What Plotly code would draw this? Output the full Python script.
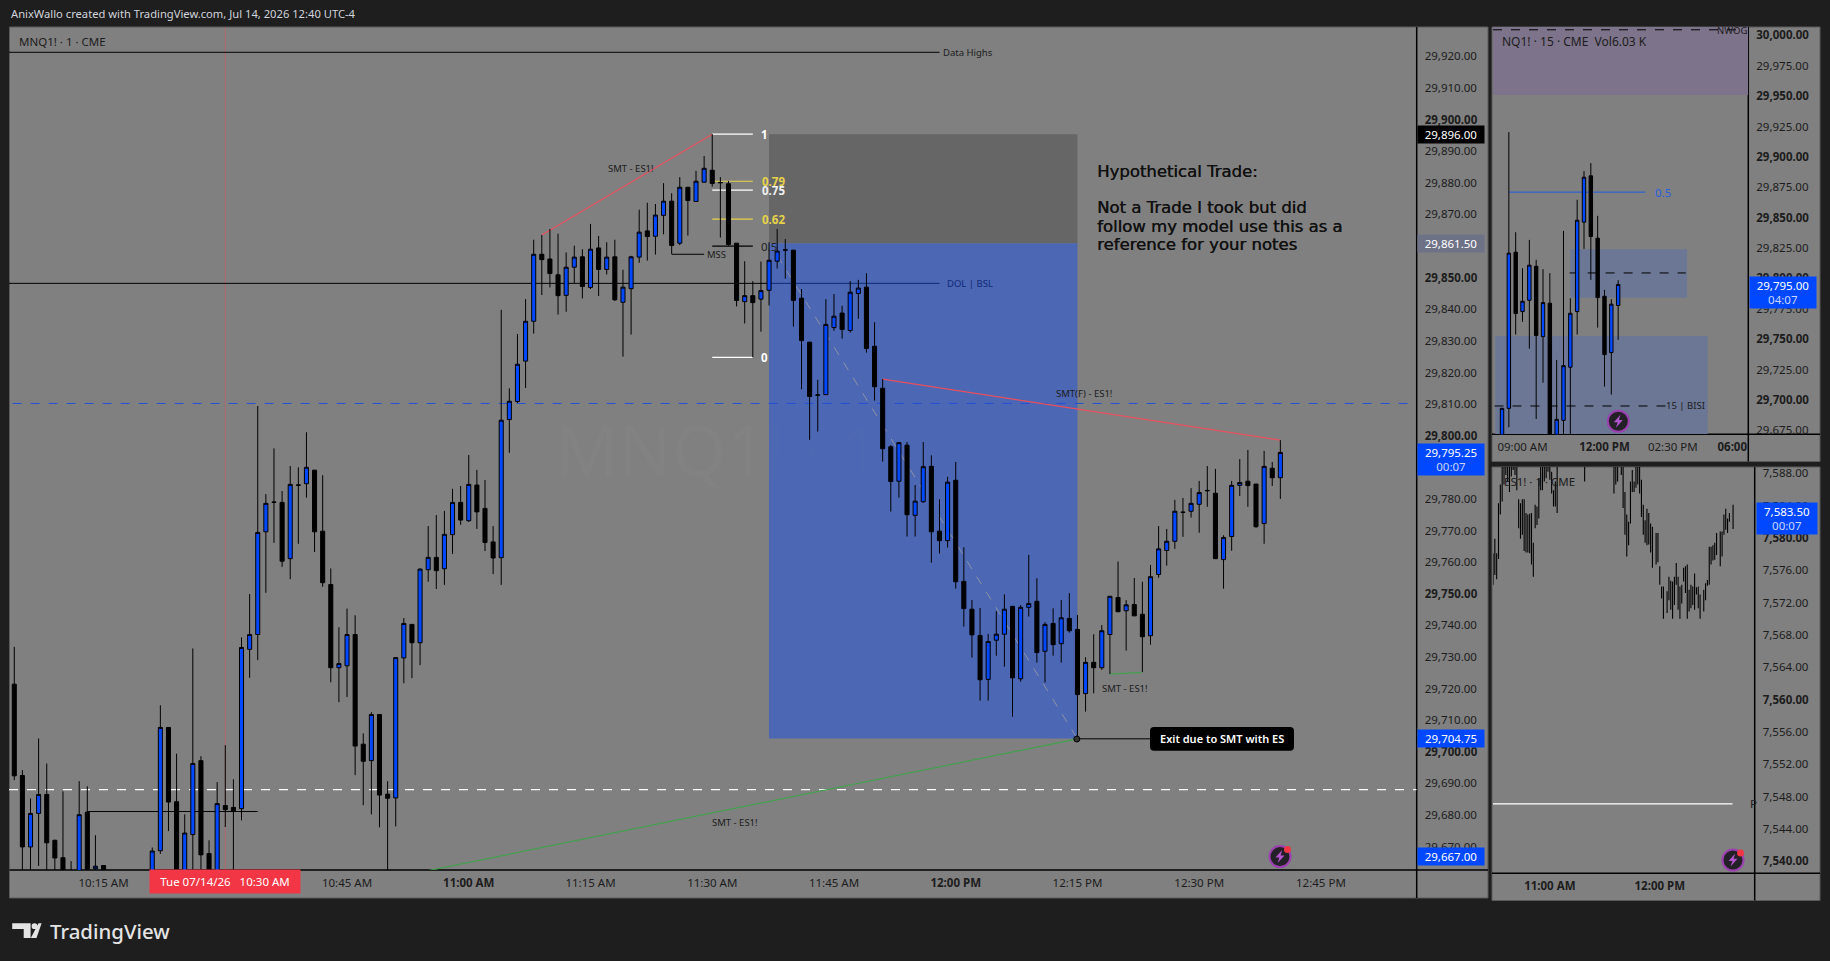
import plotly.graph_objects as go

# ---------- data: MNQ1! 1-minute bars (price minus MAIN_BASE), starting 10:04 ----------
MAIN_BASE = 29000
N = None
MAIN_OPEN = [721.4,692.5,669.9,680.5,686.5,672.0,666.5,660,655,680.9,
663.0,664.0,N,N,N,N,N,655,668.7,707.7,
684.2,655,673.8,697.2,667.8,655,683.0,682.4,682.0,732.4,
737.1,769.6,778.9,778.9,761.1,784.3,784.8,789.1,769.8,752.9,
726.6,727.2,737.1,702.4,697.2,711.8,686.6,685.4,729.7,740.3,
734.5,757.6,761.5,757.9,768.7,778.9,773.1,784.4,777.0,766.4,
761.4,805.1,810.8,823.6,836.2,857.4,855.9,850.9,844.4,853.3,
856.6,846.9,859.4,852.6,856.6,842.2,846.5,856.5,864.8,863.1,
869.7,874.2,860.9,878.6,874.1,880.2,884.0,880.0,879.7,860.9,
842.4,844.3,843.2,846.0,855.2,858.7,858.7,843.5,829.6,812.8,
813.0,834.2,838.8,833.3,845.0,847.0,828.3,815.0,796.5,785.6,
797.0,774.8,779.1,790.3,769.8,766.8,785.9,753.9,745.1,736.8,
722.9,735.3,737.2,746.0,723.1,745.7,747.6,731.8,740.6,734.2,
742.2,738.7,718.4,728.3,726.6,737.1,748.8,744.6,746.6,743.5,
736.7,756.1,763.7,766.6,775.7,776.1,778.3,782.7,781.8,760.8,
768.1,784.3,785.6,784.7,772.2,789.7,786.7]
MAIN_HIGH = [733.2,694.2,685.2,704.2,696.3,672.2,687.5,665.4,690.7,689.1,
673.6,664.0,N,N,N,N,N,669.7,714.7,707.7,
699.4,680.2,732.7,698.6,672.0,690.4,702.1,691.3,736.2,749.9,
809.4,781.5,796.0,782.5,790.4,790.0,801.1,789.1,787.5,758.0,
739.4,745.3,743.2,705.8,712.5,711.8,690.7,729.8,742.3,740.3,
758.0,771.4,774.9,776.2,783.2,784.1,793.9,789.2,786.0,771.4,
839.8,815.0,832.2,843.2,862.0,863.5,865.4,863.9,858.0,860.1,
859.0,867.0,863.2,861.2,862.0,852.5,856.9,871.5,873.7,873.3,
879.9,876.7,881.8,878.6,883.8,888.5,895.4,881.8,880.6,860.9,
855.2,848.9,855.1,861.2,865.4,862.2,858.8,846.4,829.6,817.7,
843.2,844.8,841.1,848.9,849.3,851.4,835.9,817.9,797.0,797.9,
798.0,784.4,798.0,793.8,779.9,787.0,791.7,764.7,748.0,745.5,
737.3,744.5,749.8,746.1,746.4,762.3,754.9,741.0,745.4,748.0,
750.2,743.3,729.9,737.2,740.1,749.2,760.2,748.0,755.0,753.8,
759.1,771.4,770.5,779.7,780.3,783.4,785.7,790.4,789.5,768.5,
785.7,792.6,795.5,784.7,795.2,791.7,798.6]
MAIN_LOW = [691.0,655,655,663.9,658,655,650,650,650,662.5,
660,658,N,N,N,N,N,650,667.7,674.9,
650,650,655,655,650,650,676.2,655,678.3,723.4,
729.0,750.3,766.1,758.5,754.6,765.8,780.4,763.2,752.2,722.0,
715.7,717.3,692.6,683.1,680.2,676.1,650,676.4,721.7,723.3,
727.4,753.8,751.5,752.8,762.6,771.8,772.7,770.5,763.5,756.2,
752.8,794.6,810.3,815.1,832.3,844.5,846.9,838.3,839.2,848.2,
843.4,846.4,844.2,851.0,842.6,825.0,832.0,854.7,855.4,857.3,
863.7,857.5,860.3,863.3,874.1,880.1,878.8,862.7,860.1,840.9,
835.5,824.8,832.9,841.2,852.9,849.7,834.5,814.7,798.7,801.3,
813.0,833.2,830.7,832.6,837.0,826.3,811.1,791.8,776.0,780.4,
768.1,768.1,778.8,759.8,762.7,764.6,751.6,739.6,729.8,716.2,
716.2,730.4,726.9,711.1,722.2,742.8,728.2,721.9,730.4,728.2,
737.7,704.1,712.7,718.5,725.9,724.6,744.3,732.0,743.0,725.2,
733.9,755.1,758.9,764.2,768.0,774.1,769.3,777.5,761.1,751.6,
763.6,780.9,777.5,770.9,765.8,784.1,780.0]
MAIN_CLOSE = [692.4,669.9,680.5,686.5,671.2,666.4,659.4,657,680.1,662.8,
663.8,660,N,N,N,N,N,668.6,707.7,684.1,
655,674.3,696.3,667.4,655,683.6,681.7,681.2,733.0,737.1,
769.4,778.6,779.0,760.3,784.6,784.4,790.0,769.6,753.5,726.6,
727.9,737.1,701.8,697.0,711.8,686.3,685.3,729.8,740.6,734.5,
757.8,761.5,757.3,768.8,778.9,773.3,784.6,775.9,766.2,761.3,
804.9,810.9,822.6,836.2,857.4,855.7,851.3,844.3,853.3,856.5,
847.2,859.0,852.6,856.5,843.0,847.0,856.6,864.4,863.0,869.8,
874.2,860.2,878.6,874.4,880.5,884.6,879.8,880.1,860.5,842.8,
844.3,842.1,845.9,855.5,858.4,858.8,842.8,830.1,812.4,812.9,
835.2,837.8,833.6,845.4,846.7,827.6,815.5,795.9,785.5,797.8,
775.0,779.3,790.2,769.6,766.8,785.3,753.8,745.3,737.0,722.8,
734.9,737.2,745.1,723.4,745.7,746.9,731.4,740.3,733.9,742.4,
738.3,718.1,728.3,726.6,738.3,749.2,744.3,746.5,743.0,736.4,
755.4,764.2,766.6,776.1,775.8,778.6,782.0,782.6,761.1,767.8,
784.3,785.2,784.2,771.2,790.3,786.7,794.7]

MAIN_PRICE_TICKS = [29670,29680,29690,29700,29710,29720,29730,29740,29750,29760,29770,29780,29790,
                    29800,29810,29820,29830,29840,29850,29860,29870,29880,29890,29900,29910,29920]
MAIN_PRICE_LABELS = ["29,670.00","29,680.00","29,690.00","<b>29,700.00</b>","29,710.00","29,720.00","29,730.00",
                     "29,740.00","<b>29,750.00</b>","29,760.00","29,770.00","29,780.00","29,790.00","<b>29,800.00</b>",
                     "29,810.00","29,820.00","29,830.00","29,840.00","<b>29,850.00</b>","29,860.00","29,870.00",
                     "29,880.00","29,890.00","<b>29,900.00</b>","29,910.00","29,920.00"]
MAIN_TIME_TICKS = [11,41,56,71,86,101,116,131,146,161]
MAIN_TIME_LABELS = ["10:15 AM","10:45 AM","<b>11:00 AM</b>","11:15 AM","11:30 AM","11:45 AM","<b>12:00 PM</b>",
                    "12:15 PM","12:30 PM","12:45 PM"]

# ---------- data: NQ1! 15-minute bars, starting 08:15 ----------
NQ_OPEN  = [660,693.1,821.6,772.7,782,810,752.1,779.6,650,683.2,726.9,772.7,846.3,884.4,833.1,785.3,739,777.7]
NQ_HIGH  = [693.1,920.4,838,808.4,831.7,815.3,807.6,804.3,732.9,839.1,783.7,864.7,888.3,894.9,851.5,790.6,782.9,798.5]
NQ_LOW   = [655,677.5,753.8,764.2,742.2,684.3,714.2,645,645,655,655,753.8,824.3,798.8,759.5,711,704.4,749.4]
NQ_CLOSE = [693.1,820.8,771.1,781.2,810.9,753,780.1,650,684,728.2,771.3,847.9,883.3,834.5,784.2,737.3,778.8,795]
NQ_PRICE_TICKS = [29675,29700,29725,29750,29775,29800,29825,29850,29875,29900,29925,29950,29975,30000]
NQ_PRICE_LABELS = ["29,675.00","<b>29,700.00</b>","29,725.00","<b>29,750.00</b>","29,775.00","<b>29,800.00</b>","29,825.00",
                   "<b>29,850.00</b>","29,875.00","<b>29,900.00</b>","29,925.00","<b>29,950.00</b>","29,975.00","<b>30,000.00</b>"]
NQ_TIME_TICKS = [3,15,25,33.7]
NQ_TIME_LABELS = ["09:00 AM","<b>12:00 PM</b>","02:30 PM","<b>06:00</b>"]

# ---------- data: ES1! 1-minute highs and lows (price minus ES_BASE) ----------
ES_BASE = 7000
ES_INDEX = [0,1,2,3,4,5,6,7,8,9,10,11,12,13,14,15,16,17,18,19,20,21,22,23,24,25,26,27,28,29,30,31,32,33,34,35,
            50,66,67,68,70,71,72,73,74,75,76,77,78,79,80,81,82,83,84,85,86,87,89,90,91,92,93,95,96,97,98,99,100,
            101,102,103,104,105,106,107,108,109,110,111,112,113,115,116,117,118,119,120,121,122,124,125,126,127,128,129,131]
ES_HIGH = [578.1,579.9,578.1,584.3,586.6,590,590,590,590,590,590,590,590,590,584.8,584.3,584.8,584.8,583.1,582.9,583.0,583.1,579.4,584.1,583.9,587.4,590,590,590,590,590,590,588.2,585.9,587.0,590,
           590,590,590,590,590,590,585.7,582.9,582.0,587.0,588.4,587.0,590,590,590,587.2,584.1,582.2,583.6,583.1,581.8,581.4,580.6,580.6,576.5,574.0,574.0,573.4,575.2,574.7,574.6,575.2,576.9,
           575.2,574.0,574.2,576.3,576.5,576.7,573.6,574.2,574.0,575.6,573.9,574.0,573.0,573.6,574.4,574.8,578.9,578.9,579.1,579.4,580.6,580.8,580.8,582.9,583.6,582.4,583.1,584.1]
ES_LOW = [574.2,575.4,574.9,577.4,582.9,584.5,586.6,587.8,587.0,585.7,587.6,588.4,587.8,585.9,581.2,579.9,580.4,578.4,578.2,578.2,578.1,576.7,575.2,581.2,581.6,582.4,585.9,585.9,587.0,587.4,588.2,587.2,585.5,583.9,583.9,583.1,
          587.0,585.5,586.6,587.0,587.8,583.7,580.4,577.7,579.1,581.8,585.7,585.7,586.2,586.6,585.5,582.6,580.4,579.4,579.1,579.2,578.2,576.3,576.7,577.0,574.2,572.5,570.0,570.7,572.3,571.1,570.0,571.7,574.2,
          571.1,570.0,571.9,574.6,573.2,570.0,570.9,571.3,571.7,571.1,573.0,571.3,570.0,570.9,572.3,574.1,574.2,576.7,577.2,577.3,577.9,576.5,577.7,580.4,581.0,580.6,582.0,581.1]
ES_PRICE_TICKS = [7540,7544,7548,7552,7556,7560,7564,7568,7572,7576,7580,7584,7588]
ES_PRICE_LABELS = ["<b>7,540.00</b>","7,544.00","7,548.00","7,552.00","7,556.00","<b>7,560.00</b>","7,564.00","7,568.00",
                   "7,572.00","7,576.00","<b>7,580.00</b>","7,584.00","7,588.00"]
ES_TIME_TICKS = [31,91]
ES_TIME_LABELS = ["<b>11:00 AM</b>","<b>12:00 PM</b>"]

# ---------- colours ----------
BG = "#1e1e1e"; PANE = "#808080"; FRAME = "#5a5a5a"; INK = "#1c1c1c"
BLUE = "#0048ff"; ZONE = "#4c67b3"; DARKZONE = "#666666"; RED = "#e8505e"; GREEN = "#43a04e"
FONT = "Noto Sans"; W = 1830; H = 961
TICK = dict(family=FONT, size=11.5, color=INK)

def px(x): return x / W
def py(y): return 1 - y / H

MAIN = dict(l=9, r=1416.7, t=27, b=870)
NQ = dict(l=1493, r=1748.3, t=27, b=434.3)
ES = dict(l=1493, r=1754.7, t=467, b=873.3)

fig = go.Figure()
candle = dict(increasing=dict(fillcolor=BLUE, line=dict(color="#000000", width=1)),
              decreasing=dict(fillcolor="#000000", line=dict(color="#000000", width=1)),
              hoverinfo="skip", showlegend=False)
fig.add_trace(go.Candlestick(x=list(range(len(MAIN_OPEN))),
                             open=[None if v is None else MAIN_BASE + v for v in MAIN_OPEN],
                             high=[None if v is None else MAIN_BASE + v for v in MAIN_HIGH],
                             low=[None if v is None else MAIN_BASE + v for v in MAIN_LOW],
                             close=[None if v is None else MAIN_BASE + v for v in MAIN_CLOSE],
                             xaxis="x", yaxis="y", **candle))
fig.add_trace(go.Candlestick(x=list(range(len(NQ_OPEN))),
                             open=[MAIN_BASE + v for v in NQ_OPEN], high=[MAIN_BASE + v for v in NQ_HIGH],
                             low=[MAIN_BASE + v for v in NQ_LOW], close=[MAIN_BASE + v for v in NQ_CLOSE],
                             xaxis="x2", yaxis="y2", **candle))
es_x, es_y = [], []
for i, hi, lo in zip(ES_INDEX, ES_HIGH, ES_LOW):
    es_x += [i, i, None]
    es_y += [ES_BASE + lo, ES_BASE + hi, None]
fig.add_trace(go.Scatter(x=es_x, y=es_y, mode="lines", line=dict(color="#000000", width=1.1),
                         xaxis="x3", yaxis="y3", hoverinfo="skip", showlegend=False))

shapes = []
def paper_rect(x0, y0, x1, y1, fill, line=None):
    shapes.append(dict(type="rect", xref="paper", yref="paper", x0=px(x0), x1=px(x1), y0=py(y0), y1=py(y1),
                       fillcolor=fill, line=dict(color=line or fill, width=1 if line else 0), layer="below"))
def paper_line(x0, y0, x1, y1, color="#000000", width=1.5):
    shapes.append(dict(type="line", xref="paper", yref="paper", x0=px(x0), x1=px(x1), y0=py(y0), y1=py(y1),
                       line=dict(color=color, width=width), layer="below"))
def seg(ax, x0, y0, x1, y1, color="#000000", width=1, dash="solid"):
    n = "" if ax == 1 else str(ax)
    shapes.append(dict(type="line", xref="x" + n, yref="y" + n, x0=x0, x1=x1, y0=y0, y1=y1,
                       line=dict(color=color, width=width, dash=dash), layer="below"))
def zone(ax, x0, y0, x1, y1, color):
    n = "" if ax == 1 else str(ax)
    shapes.append(dict(type="rect", xref="x" + n, yref="y" + n, x0=x0, x1=x1, y0=y0, y1=y1,
                       fillcolor=color, line=dict(width=0), layer="below"))

# pane frames
paper_rect(9.5, 27, 1488, 898, PANE, FRAME)
paper_rect(1492, 27, 1820, 461.5, PANE, FRAME)
paper_rect(1492, 467, 1820, 900.5, PANE, FRAME)

# main pane zones and drawings
zone(1, 93, 29860.9, 131, 29895.4, DARKZONE)
zone(1, 93, 29704.2, 131, 29860.9, ZONE)
seg(1, 26, 29662.6, 26, 29929.3, "rgba(230,80,90,0.45)", 1)
seg(1, -0.65, 29921.3, 114, 29921.3, "#000000", 1)
seg(1, -0.65, 29848.2, 93, 29848.2, "#000000", 1)
seg(1, 93, 29848.2, 114, 29848.2, "#0e2a78", 1)
seg(1, -0.2, 29810.2, 172.8, 29810.2, "#2450d8", 1, "dash")
seg(1, -0.65, 29688, 172.8, 29688, "#ffffff", 1.2, "dash")
seg(1, 9, 29681.1, 30, 29681.1, "#000000", 1)
seg(1, 81, 29857.4, 85, 29857.4, "#000000", 1)
seg(1, 65, 29863.5, 86, 29895.4, RED, 1.2)
seg(1, 107, 29817.9, 156, 29798.6, RED, 1.2)
seg(1, 51, 29662.4, 131, 29704.1, GREEN, 1.2)
seg(1, 135, 29724.6, 139, 29725.1, GREEN, 1.2)
seg(1, 94, 29857, 131, 29704.1, "#8d93a6", 1, "dash")
seg(1, 131, 29704.1, 148, 29704.1, "#000000", 1)
seg(1, 86, 29895.4, 91, 29895.4, "#ffffff", 1.2)
seg(1, 86, 29880.5, 91, 29880.5, "#e6d24a", 1.2)
seg(1, 86, 29877.7, 91, 29877.7, "#ffffff", 1.2)
seg(1, 86, 29868.5, 91, 29868.5, "#e6d24a", 1.2)
seg(1, 86, 29860, 91, 29860, "#000000", 1.2)
seg(1, 86, 29824.8, 91, 29824.8, "#ffffff", 1.2)

# NQ pane zones and drawings
zone(2, -1.32, 29951, 36.05, 30007, "#7d738a")
zone(2, 10, 29784, 27.1, 29824, "#6b7795")
zone(2, -1, 29672, 30.1, 29752.7, "#6b7795")
seg(2, -1.32, 30004.6, 35.5, 30004.6, "#000000", 1, "dash")
seg(2, 1, 29871, 21, 29871, "#1f5be0", 1)
seg(2, 9.9, 29804.5, 26.9, 29804.5, "#000000", 1, "dash")
seg(2, -1.1, 29695, 24.1, 29695, "#000000", 1, "dash")

# ES pane line
seg(3, 0, 7547.1, 130.7, 7547.1, "#ffffff", 1.2)

# axis separators
paper_line(1416.7, 27, 1416.7, 898)
paper_line(9.5, 870, 1488, 870)
paper_line(1748.3, 27, 1748.3, 461.5)
paper_line(1492, 434.3, 1820, 434.3)
paper_line(1754.7, 467, 1754.7, 900.5)
paper_line(1492, 873.3, 1820, 873.3)

# exit callout and marker
x0, x1, y0, y1, r = px(1150), px(1294), py(727), py(750.7), 4
rx, ry = r / W, r / H
shapes.append(dict(type="path", xref="paper", yref="paper", fillcolor="#000000", line=dict(width=0),
                   path=f"M{x0+rx},{y0} L{x1-rx},{y0} Q{x1},{y0} {x1},{y0-ry} L{x1},{y1+ry} Q{x1},{y1} {x1-rx},{y1} "
                        f"L{x0+rx},{y1} Q{x0},{y1} {x0},{y1+ry} L{x0},{y0-ry} Q{x0},{y0} {x0+rx},{y0} Z"))
shapes.append(dict(type="circle", xref="paper", yref="paper", x0=px(1073.8), x1=px(1079.8), y0=py(736), y1=py(742),
                   fillcolor="#333333", line=dict(color="#000000", width=1)))

# alert icons with lightning bolts
BOLT = [(2.2, -6.5), (-4.5, 1), (-0.6, 1), (-2.4, 6.5), (4.5, -1.2), (0.6, -1.2)]
def icon(cx, cy, dot):
    shapes.append(dict(type="circle", xref="paper", yref="paper", x0=px(cx - 10.5), x1=px(cx + 10.5),
                       y0=py(cy - 10.5), y1=py(cy + 10.5), fillcolor="#242028", line=dict(color="#9c3fb0", width=2)))
    path = "M" + " L".join(f"{px(cx + dx)},{py(cy + dy)}" for dx, dy in BOLT) + " Z"
    shapes.append(dict(type="path", xref="paper", yref="paper", path=path, fillcolor="#b455d0", line=dict(width=0)))
    if dot:
        shapes.append(dict(type="circle", xref="paper", yref="paper", x0=px(cx + 4), x1=px(cx + 11),
                           y0=py(cy - 10.5), y1=py(cy - 3.5), fillcolor="#f23645", line=dict(width=0)))
icon(1280, 856.6, True)
icon(1618.3, 421.3, False)
icon(1733, 860, True)

# TradingView mark
shapes.append(dict(type="path", xref="paper", yref="paper", fillcolor="#e4e4e4", line=dict(width=0),
                   path=f"M{px(12.2)},{py(923.3)} L{px(30.6)},{py(923.3)} L{px(30.6)},{py(938)} L{px(23.7)},{py(938)} "
                        f"L{px(23.7)},{py(929)} L{px(12.2)},{py(929)} Z"))
shapes.append(dict(type="circle", xref="paper", yref="paper", x0=px(31.6), x1=px(37.4), y0=py(923.3), y1=py(929),
                   fillcolor="#e4e4e4", line=dict(width=0)))
shapes.append(dict(type="path", xref="paper", yref="paper", fillcolor="#e4e4e4", line=dict(width=0),
                   path=f"M{px(38.5)},{py(923.3)} L{px(41.6)},{py(923.3)} L{px(36.5)},{py(938)} L{px(30.8)},{py(938)} Z"))

ann = []
def label(ax, x, y, text, size=9.5, color=INK, weight=None, **kw):
    n = "" if ax == 1 else str(ax)
    ann.append(dict(xref="x" + n, yref="y" + n, x=x, y=y, text=text, showarrow=False,
                    font=dict(family=FONT, size=size, color=color, weight=weight), **kw))
def plabel(x, y, text, size=11.5, color=INK, weight=None, xanchor="left", family=FONT, shadow=None):
    ann.append(dict(xref="paper", yref="paper", x=px(x), y=py(y), text=text, showarrow=False, xanchor=xanchor,
                    yanchor="middle", font=dict(family=family, size=size, color=color, weight=weight, shadow=shadow)))
def tag(ax, x, price, text, fill, w, h, shift=0, color="#ffffff"):
    n = "" if ax == 1 else str(ax)
    ann.append(dict(xref="paper", yref="y" + n, x=px(x), y=price, text=text, showarrow=False, xanchor="left",
                    yanchor="middle", yshift=shift, width=w, height=h, bgcolor=fill, borderpad=0, align="center",
                    font=dict(family=FONT, size=11.5, color=color)))

# main labels
label(1, 117.5, 29921.3, "Data Highs")
label(1, 117.8, 29848.2, "DOL | BSL", color="#10297a")
label(1, 86.5, 29857.4, "MSS")
label(1, 76, 29884.4, "SMT - ES1!")
label(1, 131.8, 29813.5, "SMT(F) - ES1!")
label(1, 136.8, 29720, "SMT - ES1!")
label(1, 88.8, 29677.5, "SMT - ES1!")
label(1, 92.5, 29895.4, "1", 11.5, "#ffffff", 700)
label(1, 93.5, 29880.5, "0.79", 11.5, "#e6d24a", 700)
label(1, 93.5, 29877.7, "0.75", 11.5, "#f0f0f0", 700)
label(1, 93.5, 29868.5, "0.62", 11.5, "#e6d24a", 700)
label(1, 93, 29860, "0.5", 11.5, "#222222")
label(1, 92.5, 29824.8, "0", 11.5, "#ffffff", 700)
label(1, 148.8, 29704.1, "Exit due to SMT with ES", 11, "#ffffff", 600)
thick = "0.4px 0 0 #111111"
plabel(1095, 171.5, "Hypothetical Trade:", 16.5, "#111111", family="DejaVu Sans", shadow=thick)
plabel(1095, 208, "Not a Trade I took but did", 16.5, "#111111", family="DejaVu Sans", shadow=thick)
plabel(1095, 226, "follow my model use this as a", 16.5, "#111111", family="DejaVu Sans", shadow=thick)
plabel(1095, 244, "reference for your notes", 16.5, "#111111", family="DejaVu Sans", shadow=thick)
plabel(16.5, 41.7, "MNQ1! · 1 · CME", 11.5)
plabel(1500, 41.7, "NQ1! · 15 · CME  Vol6.03 K", 12)
plabel(1501.5, 481.7, "ES1! · 1 · CME", 11.5)
plabel(9, 13, "AnixWallo created with TradingView.com, Jul 14, 2026 12:40 UTC-4", 11.2, "#d1d4dc")
plabel(48, 931, "TradingView", 20.4, "#e4e4e4", 500)
plabel(553, 449, "MNQ1! · 1", 70, "rgba(255,255,255,0.015)")
plabel(1530, 228, "NQ1! · 15", 40, "rgba(255,255,255,0.015)")
plabel(1553, 668, "ES1! · 1", 40, "rgba(255,255,255,0.015)")
plabel(1748, 803, "P", 11.5)

# NQ labels
label(2, 23.6, 29871, "0.5", 11.5, "#2a5fe0")
label(2, 26.9, 29695, "15 | BISI")
label(2, 33.6, 30004, "NWOG")

# price and time tags
tag(1, 1417, 29896, "29,896.00", "#000000", 66, 17, -2)
tag(1, 1417, 29861.5, "29,861.50", "#6e7287", 66, 17, -2)
tag(1, 1417, 29795.25, "29,795.25<br><span style='color:#c8d6ff'>00:07</span>", BLUE, 66, 31, -8.7)
tag(1, 1417, 29704.75, "29,704.75", BLUE, 66, 17, -2)
tag(1, 1417, 29667, "29,667.00", BLUE, 66, 17)
tag(2, 1749, 29795, "29,795.00<br><span style='color:#c8d6ff'>04:07</span>", BLUE, 66, 31, -7.7)
tag(3, 1755.5, 7583.5, "7,583.50<br><span style='color:#c8d6ff'>00:07</span>", BLUE, 60, 31, -8.7)
ann.append(dict(xref="x", yref="paper", x=26, y=py(881.5), text="Tue 07/14/26   10:30 AM", showarrow=False,
                width=150, height=23, bgcolor="#f23645", borderpad=0, xanchor="center", yanchor="middle",
                font=dict(family=FONT, size=11.5, color="#ffffff")))

def xaxis(pane, anchor, rng, vals, text):
    return dict(domain=[px(pane["l"]), px(pane["r"])], anchor=anchor, range=rng, tickmode="array", tickvals=vals,
                ticktext=text, showgrid=False, zeroline=False, showline=False, ticks="", tickfont=TICK, tickangle=0,
                rangeslider=dict(visible=False), fixedrange=True, ticklabelstandoff=4)
def yaxis(pane, anchor, rng, vals, text):
    return dict(domain=[py(pane["b"]), py(pane["t"])], anchor=anchor, side="right", range=rng, tickmode="array",
                tickvals=vals, ticktext=text, showgrid=False, zeroline=False, showline=False, ticks="",
                tickfont=TICK, fixedrange=True, ticklabelstandoff=7)

fig.update_layout(
    width=W, height=H, autosize=False, margin=dict(l=0, r=0, t=0, b=0, autoexpand=False),
    paper_bgcolor=BG, plot_bgcolor="rgba(0,0,0,0)", showlegend=False, boxgap=0.5, boxgroupgap=0,
    font=dict(family=FONT),
    xaxis=xaxis(MAIN, "y", [-0.65, 172.8], MAIN_TIME_TICKS, MAIN_TIME_LABELS),
    yaxis=yaxis(MAIN, "x", [29662.6, 29929.3], MAIN_PRICE_TICKS, MAIN_PRICE_LABELS),
    xaxis2=xaxis(NQ, "y2", [-1.32, 36.05], NQ_TIME_TICKS, NQ_TIME_LABELS),
    yaxis2=yaxis(NQ, "x2", [29671.7, 30006.9], NQ_PRICE_TICKS, NQ_PRICE_LABELS),
    xaxis3=xaxis(ES, "y3", [0, 142.8], ES_TIME_TICKS, ES_TIME_LABELS),
    yaxis3=yaxis(ES, "x3", [7538.5, 7588.78], ES_PRICE_TICKS, ES_PRICE_LABELS),
    shapes=shapes, annotations=ann,
)
fig.write_html("out.html", config={"displayModeBar": False},
               post_script="document.body.style.margin='0';document.body.style.overflow='hidden';")
